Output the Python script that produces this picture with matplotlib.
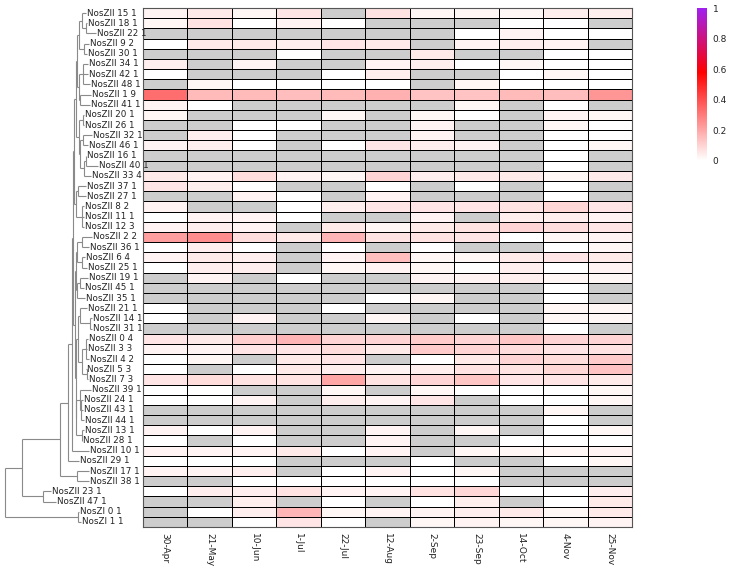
import numpy as np
import matplotlib
matplotlib.use('Agg')
import matplotlib.pyplot as plt
from matplotlib.colors import LinearSegmentedColormap, Normalize
from matplotlib.cm import ScalarMappable

G = np.nan

# Sampling dates (columns)
dates = ['30-Apr', '21-May', '10-Jun', '1-Jul', '22-Jul', '12-Aug',
         '2-Sep', '23-Sep', '14-Oct', '4-Nov', '25-Nov']

# Leaf labels, top to bottom
labels = ['NosZII 15 1', 'NosZII 18 1', 'NosZII 22 1', 'NosZII 9 2', 'NosZII 30 1',
          'NosZII 34 1', 'NosZII 42 1', 'NosZII 48 1', 'NosZII 1 9', 'NosZII 41 1',
          'NosZII 20 1', 'NosZII 26 1', 'NosZII 32 1', 'NosZII 46 1', 'NosZII 16 1',
          'NosZII 40 1', 'NosZII 33 4', 'NosZII 37 1', 'NosZII 27 1', 'NosZII 8 2',
          'NosZII 11 1', 'NosZII 12 3', 'NosZII 2 2', 'NosZII 36 1', 'NosZII 6 4',
          'NosZII 25 1', 'NosZII 19 1', 'NosZII 45 1', 'NosZII 35 1', 'NosZII 21 1',
          'NosZII 14 1', 'NosZII 31 1', 'NosZII 0 4', 'NosZII 3 3', 'NosZII 4 2',
          'NosZII 5 3', 'NosZII 7 3', 'NosZII 39 1', 'NosZII 24 1', 'NosZII 43 1',
          'NosZII 44 1', 'NosZII 13 1', 'NosZII 28 1', 'NosZII 10 1', 'NosZII 29 1',
          'NosZII 17 1', 'NosZII 38 1', 'NosZII 23 1', 'NosZII 47 1', 'NosZI 0 1',
          'NosZI 1 1']

# Tip depth of every leaf (tree distance units)
tips = [85.5, 86.5, 95.5, 88.5, 86.5, 87.5, 87.5, 89.5, 90.5, 89.5,
        83.5, 83.5, 91.5, 87.5, 85.5, 97.5, 90.5, 85.5, 85.5, 83.5,
        84.0, 83.5, 91.5, 88.5, 84.5, 86.5, 87.5, 83.5, 84.5, 86.5,
        91.5, 91.5, 87.5, 86.5, 88.5, 85.5, 87.5, 90.5, 82.5, 82.5,
        83.5, 83.5, 81.5, 88.5, 78.5, 88.5, 88.5, 50.5, 55.5, 78.5,
        80.5]

# Tree topology: (node depth, [children]); leaves are labels
top10 = (77, [
    (79, [(82, ['NosZII 15 1', (86, ['NosZII 18 1', 'NosZII 22 1'])]),
          (84, ['NosZII 9 2', 'NosZII 30 1'])]),
    (79, [(83, ['NosZII 34 1', 'NosZII 42 1', 'NosZII 48 1']),
          (80, ['NosZII 1 9', 'NosZII 41 1'])]),
])
mid7 = (79, [
    (83, ['NosZII 20 1', 'NosZII 26 1']),
    (80, [(83, ['NosZII 32 1', 'NosZII 46 1']),
          (84, [(86, ['NosZII 16 1', 'NosZII 40 1']), 'NosZII 33 4'])]),
])
grp_b = (76, [(77.5, ['NosZII 37 1', 'NosZII 27 1']),
              (82, ['NosZII 8 2', 'NosZII 11 1', 'NosZII 12 3'])])
grp_c = (76, [
    (77, [(82, ['NosZII 2 2', 'NosZII 36 1']), (82, ['NosZII 6 4', 'NosZII 25 1'])]),
    (77, [(80, ['NosZII 19 1', 'NosZII 45 1']), 'NosZII 35 1']),
])
grp_d = (75.5, [
    (78, [(80, ['NosZII 21 1', (90, ['NosZII 14 1', 'NosZII 31 1'])]),
          (82, [(86, ['NosZII 0 4', 'NosZII 3 3', 'NosZII 4 2']),
                (87, ['NosZII 5 3', 'NosZII 7 3'])])]),
    (76, [(80, ['NosZII 39 1', (81, ['NosZII 24 1', 'NosZII 43 1', 'NosZII 44 1'])]),
          (82, ['NosZII 13 1', 'NosZII 28 1'])]),
])
tree = (5, [
    (22, [
        (60, [
            (68, [
                (72, [
                    (73, [(74, [(76, [top10, mid7]), grp_b]),
                          (74.5, [grp_c, grp_d])]),
                    'NosZII 10 1']),
                'NosZII 29 1']),
            (77, ['NosZII 17 1', 'NosZII 38 1'])]),
        (43, ['NosZII 23 1', 'NosZII 47 1'])]),
    (78, ['NosZI 0 1', 'NosZI 1 1']),
])

# Relative abundance, one row per leaf (nan = not detected)
values = [
    [0.03, 0.05, 0.02, 0.06, G, 0.07, 0.02, 0.02, 0.02, 0.04, 0.04],
    [0.02, 0.07, 0, 0.03, 0, G, G, G, 0, 0, G],
    [G, G, G, G, G, G, G, 0, 0.03, 0, 0],
    [0, 0.05, 0.05, 0.04, 0.06, 0.05, G, 0.03, 0.04, 0.03, G],
    [G, G, G, 0, G, G, 0.05, G, G, 0, 0],
    [0.04, G, 0.03, G, G, 0.03, 0.04, 0, 0.02, 0, 0],
    [0, G, G, G, 0, 0.04, G, G, 0, 0.02, 0],
    [G, 0.02, 0, 0, 0, 0, G, 0.02, 0, 0, 0],
    [0.33, 0.16, 0.16, 0.15, 0.16, 0.18, 0.14, 0.14, 0.16, 0.15, 0.24],
    [0.03, 0, G, G, G, G, G, 0.02, G, 0, G],
    [0.02, G, G, G, 0.02, G, 0.02, 0, G, 0.03, 0.02],
    [G, G, 0, 0, G, G, 0.03, G, G, 0.02, 0],
    [G, 0.04, 0, G, G, G, 0.03, G, G, 0, 0],
    [0.03, 0.04, 0, G, 0, 0.06, 0.04, 0.03, G, 0, 0.02],
    [G, G, G, G, G, G, G, G, G, 0, G],
    [G, G, G, G, G, G, G, G, G, 0, G],
    [0.05, 0.03, 0.08, 0.03, 0.02, 0.1, 0.04, 0.05, 0.05, 0.02, 0.05],
    [0.06, 0.04, 0, G, G, 0, G, 0, G, 0, G],
    [G, G, 0.03, 0, G, 0.03, G, G, G, 0, G],
    [0.03, G, G, 0, 0.04, 0.06, 0.06, 0.06, 0.07, 0.09, 0.06],
    [0, 0.03, 0.03, 0, G, G, 0.03, G, 0.04, 0.04, 0.03],
    [0.03, 0.04, 0.03, G, 0.05, 0.02, 0.05, 0.07, 0.1, 0.08, 0.06],
    [0.22, 0.26, 0.08, 0.05, 0.17, 0.07, 0.07, 0.06, 0, 0.02, 0.03],
    [0, 0.04, 0, G, 0, G, 0, G, G, 0, 0.02],
    [0.03, 0.05, 0.04, G, 0.03, 0.15, 0.02, 0.02, 0.05, 0.06, 0.05],
    [0, 0.04, 0.04, G, 0.02, 0.03, 0.02, 0, 0.04, 0, 0.03],
    [G, 0.03, G, 0, G, G, 0.03, 0.03, 0.04, 0.02, 0.02],
    [G, G, G, G, G, G, G, G, G, 0, G],
    [G, G, G, G, G, 0, 0.02, G, G, 0, G],
    [0, G, G, G, 0, G, G, G, G, 0.02, 0.02],
    [0, G, 0.03, G, G, 0.02, G, 0, G, 0.02, 0.02],
    [G, G, G, G, G, G, G, G, G, 0, G],
    [0.06, 0.05, 0.11, 0.17, 0.1, 0.1, 0.12, 0.1, 0.13, 0.1, 0.1],
    [0.03, 0.03, 0.06, 0.06, 0.08, 0.05, 0.12, 0.1, 0.08, 0.06, 0.07],
    [0, 0.02, G, 0.05, 0.06, G, 0, 0.05, 0.1, 0.08, 0.12],
    [0, G, 0, 0.05, 0.04, 0.03, 0.04, 0.07, 0.07, 0.09, 0.14],
    [0.06, 0.08, 0.07, 0.07, 0.2, 0.07, 0.1, 0.13, 0.06, 0.06, 0.05],
    [0, 0, G, G, 0.02, G, 0.02, 0, 0, 0, 0.02],
    [0, 0, 0.03, G, 0.04, 0.03, 0.06, G, 0, 0, 0.02],
    [G, G, G, G, G, G, G, G, G, 0.02, G],
    [G, G, G, G, G, G, G, G, G, 0, G],
    [0.03, 0, 0.03, G, G, 0.03, G, 0.02, G, 0, 0.02],
    [0, G, 0, G, G, 0.03, G, G, 0, 0, 0],
    [0.03, 0.03, 0.03, 0.05, 0, 0.03, G, 0.02, 0.02, 0.02, 0.03],
    [0, 0, 0, G, G, G, 0, G, G, 0, 0.02],
    [0.03, 0.03, 0.04, G, 0, 0.03, 0, 0.02, G, G, G],
    [G, G, 0, 0, 0, 0, 0, 0, G, G, G],
    [0, 0.04, 0.04, 0.07, 0.03, 0.03, 0.07, 0.09, 0, 0, 0.04],
    [G, G, 0.04, G, 0, G, 0, 0.04, G, 0, 0.05],
    [G, 0, 0.04, 0.17, 0.02, 0.03, 0.03, 0.04, 0.05, 0.02, 0.05],
    [G, G, 0, 0.06, 0, G, 0.02, 0.03, 0.02, 0.02, 0.03],
]

cbar_ticks = [0, 0.2, 0.4, 0.6, 0.8, 1]
cbar_ticklabels = ['0', '0.2', '0.4', '0.6', '0.8', '1']

# -------------------------------------------------------------
W, H = 741, 568
fig = plt.figure(figsize=(W / 100, H / 100), dpi=100)

hm_left, hm_right, hm_top, hm_bottom = 143, 632, 8, 527
bottom = 1 - hm_bottom / H
height = (hm_bottom - hm_top) / H

cmap = LinearSegmentedColormap.from_list(
    'wrp', [(0, 'white'), (0.58, 'red'), (1, '#a020f0')])
cmap.set_bad('#cdcdcd')
norm = Normalize(vmin=0, vmax=1)

# Heatmap
ax = fig.add_axes([hm_left / W, bottom, (hm_right - hm_left) / W, height])
data = np.ma.masked_invalid(np.array(values, dtype=float))
ax.pcolormesh(data, cmap=cmap, norm=norm, edgecolors='black', linewidth=0.6)
ax.set_xlim(0, len(dates))
ax.set_ylim(len(labels), 0)
ax.set_yticks([])
ax.set_xticks(np.arange(len(dates)) + 0.5)
ax.set_xticklabels(dates, rotation=-90, fontsize=6.5, color='#222222')
ax.tick_params(axis='x', length=0, pad=4)
for sp in ax.spines.values():
    sp.set_color('#555555')
    sp.set_linewidth(0.8)

# Dendrogram
dax = fig.add_axes([0, bottom, hm_left / W, height])
dax.set_xlim(0, hm_left)
dax.set_ylim(len(labels), 0)
dax.axis('off')

line_kw = dict(color='#8a8a8a', lw=0.8, solid_capstyle='butt')


def draw(node):
    if isinstance(node, str):
        i = labels.index(node)
        dax.text(tips[i] + 1.3, i + 0.5, node, fontsize=6.3, color='#222222',
                 ha='left', va='center')
        return i + 0.5, tips[i]
    depth, kids = node
    pos = [draw(k) for k in kids]
    for y, x in pos:
        dax.plot([depth, x], [y, y], **line_kw)
    ys = [p[0] for p in pos]
    dax.plot([depth, depth], [min(ys), max(ys)], **line_kw)
    return (min(ys) + max(ys)) / 2, depth


draw(tree)

# Colour bar
cax = fig.add_axes([697 / W, 1 - 161 / H, 10 / W, 153 / H])
cb = fig.colorbar(ScalarMappable(norm=norm, cmap=cmap), cax=cax, ticks=cbar_ticks)
cb.outline.set_visible(False)
cb.ax.set_yticklabels(cbar_ticklabels)
cb.ax.tick_params(labelsize=6.5, length=0, pad=4, labelcolor='#222222')

plt.savefig('out.png', dpi=100)
print('Done')
